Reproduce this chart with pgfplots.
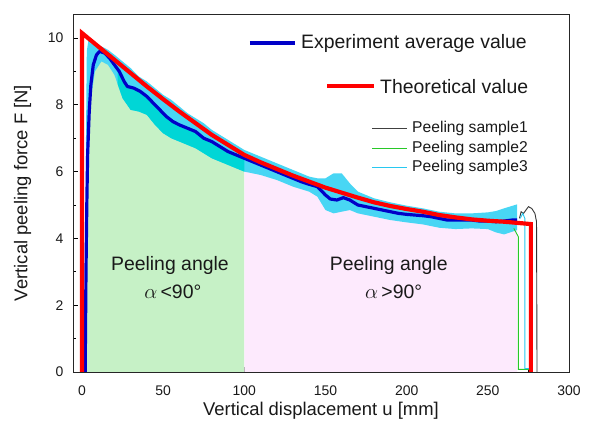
\documentclass[border=0pt]{standalone}
\usepackage{fontspec}
\setmainfont{Liberation Sans}
\usepackage{pgfplots}
\pgfplotsset{compat=1.18}
\usepackage{pgfplotstable}
\usepgfplotslibrary{fillbetween}

\definecolor{gfill}{RGB}{198,241,198}
\definecolor{pfill}{RGB}{253,234,253}
\definecolor{bandc}{RGB}{72,214,244}
\definecolor{tealc}{RGB}{0,214,214}
\definecolor{avgc}{RGB}{0,0,200}
\definecolor{sgreen}{RGB}{40,200,40}
\definecolor{scyan}{RGB}{40,200,240}
\definecolor{txt}{RGB}{25,25,25}

\pgfplotstableread{
x y
2 0
2.5 3
3 5
3.5 6.5
4.5 7.8
5.5 8.6
7 9.2
9 9.5
11 9.6
14 9.55
17 9.4
20 9.2
23 9.0
26 8.7
28 8.55
32 8.5
36 8.4
40 8.25
44 8.05
48 7.85
52 7.65
56 7.5
60 7.4
65 7.3
70 7.2
75 7.0
80 6.9
85 6.75
90 6.6
95 6.5
100 6.4
105 6.3
110 6.2
115 6.1
120 6.0
125 5.9
130 5.8
135 5.7
140 5.62
145 5.55
150 5.3
153 5.18
157 5.15
161 5.22
165 5.15
170 5.0
175 4.95
180 4.9
185 4.85
190 4.8
195 4.75
200 4.72
210 4.68
215 4.65
220 4.6
225 4.55
230 4.55
235 4.55
240 4.55
245 4.52
250 4.52
255 4.5
260 4.52
265 4.55
268 4.55
}\avgdata

\pgfplotstableread{
x lo hi
2.5 4 7
3 6 9.6
4 7.2 9.95
5 8 9.85
8 9.0 9.8
12 9.3 9.75
16 9.2 9.65
20 8.9 9.5
25 8.2 9.3
30 7.85 9.1
35 7.8 8.85
40 7.7 8.7
45 7.4 8.5
50 7.15 8.3
55 7.0 8.15
60 6.9 7.95
65 6.8 7.75
70 6.7 7.6
75 6.55 7.45
80 6.4 7.25
85 6.3 7.1
90 6.2 6.95
95 6.1 6.8
100 6.0 6.65
110 5.9 6.45
120 5.75 6.25
130 5.55 6.05
140 5.4 5.85
145 5.25 5.8
150 4.85 5.8
155 4.75 5.95
160 4.8 5.95
165 4.85 5.65
170 4.75 5.4
180 4.65 5.2
190 4.55 5.08
200 4.48 4.98
210 4.42 4.9
220 4.32 4.8
230 4.28 4.75
240 4.3 4.75
250 4.28 4.78
255 4.18 4.82
260 4.12 4.9
268 4.25 5.02
}\banddata

\pgfplotstableread{
x y
0 0
0 10.15
10 9.75
20 9.35
30 8.95
40 8.55
50 8.17
60 7.8
70 7.45
80 7.1
90 6.8
100 6.5
110 6.28
120 6.08
130 5.88
140 5.7
150 5.52
160 5.37
170 5.22
180 5.08
190 4.97
200 4.88
210 4.8
220 4.7
230 4.63
240 4.57
250 4.53
260 4.5
276.5 4.43
276.5 0
}\theory

\begin{document}
\begin{tikzpicture}
\begin{axis}[
  scale only axis, width=496bp, height=358bp,
  xmin=-5.5, xmax=300, ymin=0, ymax=10.72,
  xtick={0,50,...,300}, minor xtick={25,75,...,275},
  ytick={0,2,...,10}, minor ytick={1,3,...,9},
  xtick pos=bottom, ytick pos=left,
  tick align=inside,
  major tick length=5bp, minor tick length=3bp,
  tick style={black, line width=0.8pt},
  axis line style={line width=0.9pt, black!85},
  ticklabel style={font=\fontsize{14}{14}\selectfont, text=txt},
  xticklabel style={yshift=-10bp},
  yticklabel style={xshift=-6bp},
  /pgf/number format/assume math mode=true,
  xlabel={Vertical displacement u [mm]},
  ylabel={Vertical peeling force F [N]},
  label style={font=\fontsize{18.5}{20}\selectfont, text=txt},
  ylabel style={yshift=10bp},
]
\addplot[draw=none, name path=basep, forget plot] coordinates {(-5.5,0) (300,0)};
\addplot[draw=none, name path=avgp, forget plot] table[x=x,y=y]{\avgdata};
\addplot[gfill, draw=none] fill between[of=avgp and basep, soft clip={domain=1.5:100}];
\addplot[pfill, draw=none] fill between[of=avgp and basep, soft clip={domain=100:268}];
\addplot[draw=none, name path=lop, forget plot] table[x=x,y=lo]{\banddata};
\addplot[draw=none, name path=hip, forget plot] table[x=x,y=hi]{\banddata};
\addplot[bandc, draw=none] fill between[of=hip and lop];
\addplot[tealc, draw=none] fill between[of=avgp and lop, soft clip={domain=22:100}];
% sample end segments
\addplot[black!80, line width=0.9pt] coordinates {(269.5,4.6) (270.5,4.8) (272,4.75) (273.5,4.85) (275,4.95) (277,4.9) (279,4.75) (280,4.5) (280.3,0)};
\addplot[sgreen, line width=0.9pt] coordinates {(266,4.3) (268.8,4.05) (268.8,0.08) (275.7,0.08)};
\addplot[scyan, line width=0.9pt] coordinates {(270,4.6) (271.5,4.75) (272.8,4.6) (272.8,0.1) (276,0.1)};
% average
\addplot[avgc, line width=3.2pt, line join=round] table[x=x,y=y]{\avgdata};
% theory
\addplot[red, line width=4.2pt, line join=miter] table[x=x,y=y]{\theory};
% annotations
\node[font=\fontsize{19.5}{20}\selectfont, text=txt] at (axis cs:54.2,3.2) {Peeling angle};
\node[font=\fontsize{19.5}{20}\selectfont, text=txt] at (axis cs:56,2.39) {$\alpha$\,<90°};
\node[font=\fontsize{19.5}{20}\selectfont, text=txt] at (axis cs:189,3.2) {Peeling angle};
\node[font=\fontsize{19.5}{20}\selectfont, text=txt] at (axis cs:192,2.39) {$\alpha$\,>90°};
% legend
\draw[avgc, line width=4pt] (axis cs:103.5,9.85) -- (axis cs:131.2,9.85);
\node[anchor=west, inner sep=0pt, font=\fontsize{19.5}{20}\selectfont, text=txt] at (axis cs:134.9,9.85) {Experiment average value};
\draw[red, line width=4.5pt] (axis cs:151,8.56) -- (axis cs:179.9,8.56);
\node[anchor=west, inner sep=0pt, font=\fontsize{19.5}{20}\selectfont, text=txt] at (axis cs:183.6,8.56) {Theoretical value};
\draw[black!75, line width=1.1pt] (axis cs:178.7,7.30) -- (axis cs:200.2,7.30);
\node[anchor=west, inner sep=0pt, font=\fontsize{15.7}{16}\selectfont, text=txt] at (axis cs:203.3,7.30) {Peeling sample1};
\draw[sgreen, line width=1.1pt] (axis cs:178.7,6.70) -- (axis cs:200.2,6.70);
\node[anchor=west, inner sep=0pt, font=\fontsize{15.7}{16}\selectfont, text=txt] at (axis cs:203.3,6.70) {Peeling sample2};
\draw[scyan, line width=1.1pt] (axis cs:178.7,6.13) -- (axis cs:200.2,6.13);
\node[anchor=west, inner sep=0pt, font=\fontsize{15.7}{16}\selectfont, text=txt] at (axis cs:203.3,6.13) {Peeling sample3};
\end{axis}
\pgfresetboundingbox
\path ([xshift=-73bp,yshift=-61bp]current axis.south west) rectangle ([xshift=20bp,yshift=14bp]current axis.north east);
\end{tikzpicture}
\end{document}
